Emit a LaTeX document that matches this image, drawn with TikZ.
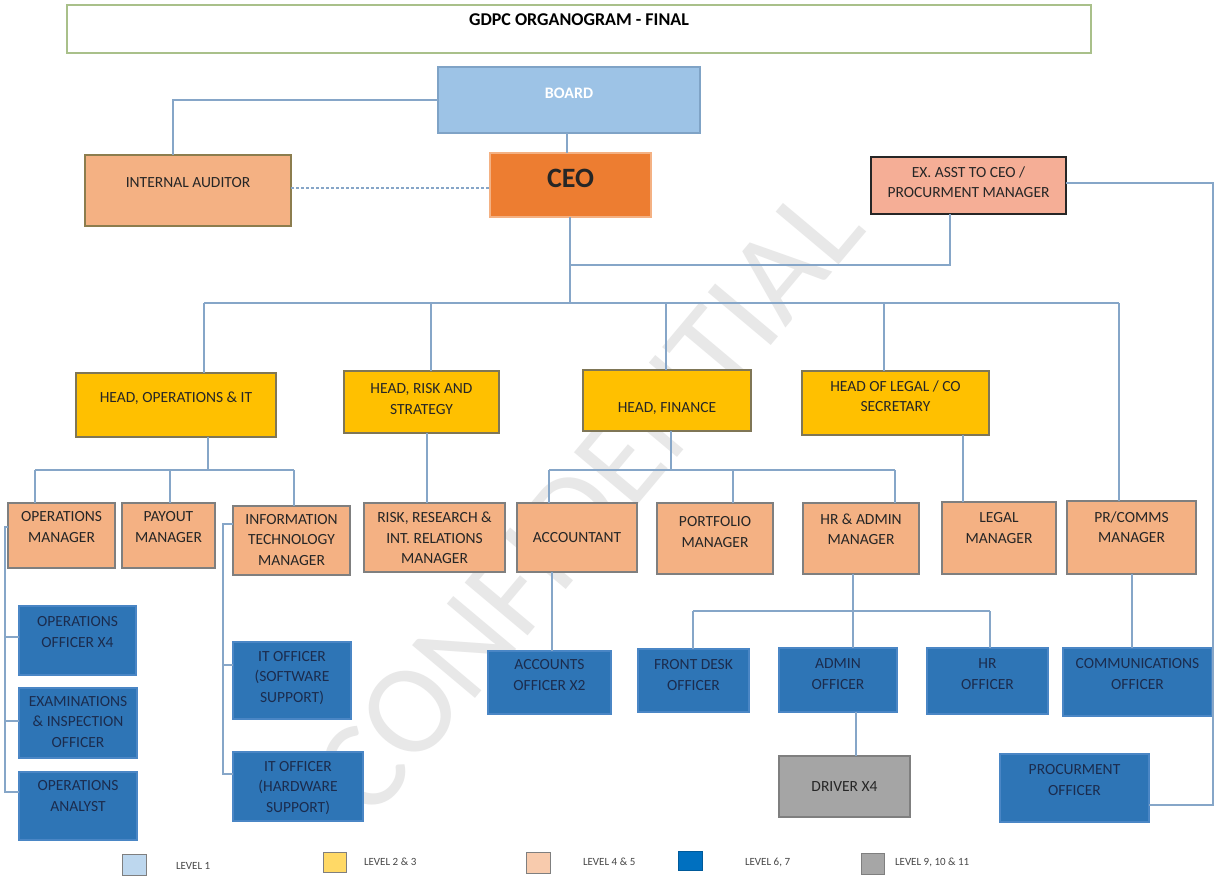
\documentclass[tikz,border=0pt]{standalone}
\usepackage{fontspec}
\setmainfont{Carlito}
\usetikzlibrary{calc}
\definecolor{connc}{HTML}{86A6C8}
\definecolor{boardf}{HTML}{9DC3E6}
\definecolor{boardd}{HTML}{7FA3C6}
\definecolor{ceof}{HTML}{ED7D31}
\definecolor{ceod}{HTML}{F4B183}
\definecolor{orf}{HTML}{F4B183}
\definecolor{ord}{HTML}{7F7F7F}
\definecolor{iad}{HTML}{8C7D4E}
\definecolor{yelf}{HTML}{FFC000}
\definecolor{yeld}{HTML}{7F7656}
\definecolor{exf}{HTML}{F5AE96}
\definecolor{bluf}{HTML}{2E75B6}
\definecolor{blud}{HTML}{4A86C5}
\definecolor{blut}{HTML}{1B2C4E}
\definecolor{gryf}{HTML}{A5A5A5}
\definecolor{titd}{HTML}{A9C08A}
\definecolor{txtd}{HTML}{262626}
\definecolor{lg1}{HTML}{BDD7EE}
\definecolor{lg2}{HTML}{FFD966}
\definecolor{lg3}{HTML}{F8CBAD}
\definecolor{lg4}{HTML}{0070C0}
\definecolor{lg5}{HTML}{A6A6A6}
\newcommand\obox[9]{%
  \node[#2, anchor=north west, minimum width={(#5-#3)*1pt}, minimum height={(#6-#4)*1pt}] (#1) at (#3,#4) {};
  \node[#9] (#1t) at ({(#3+#5)/2}, #7) {#8};}
\begin{document}
\begin{tikzpicture}[x=1pt,y=-1pt,
  every node/.style={inner sep=0pt, outer sep=0pt},
  conn/.style={draw=connc, line width=1.3pt},
  boxbase/.style={rectangle, line width=1.1pt},
  bboard/.style={boxbase, fill=boardf, draw=boardd},
  bceo/.style={boxbase, fill=ceof, draw=ceod},
  bia/.style={boxbase, fill=orf, draw=iad},
  bor/.style={boxbase, fill=orf, draw=ord},
  bhead/.style={boxbase, fill=yelf, draw=yeld},
  bex/.style={boxbase, fill=exf, draw=txtd},
  bblue/.style={boxbase, fill=bluf, draw=blud},
  bgrey/.style={boxbase, fill=gryf, draw=ord},
  tdark/.style={align=center, text=txtd, font=\fontsize{15.5}{20.5}\selectfont},
  tblue/.style={align=center, text=blut, font=\fontsize{15.5}{20.5}\selectfont},
  twhite/.style={align=center, text=white, font=\fontsize{16}{20}\selectfont\bfseries},
  tceo/.style={align=center, text=txtd, font=\fontsize{28}{30}\selectfont\bfseries},
  ttitle/.style={align=center, text=black, font=\fontsize{18}{20}\selectfont\bfseries},
  swatch/.style={rectangle, draw=ord, line width=0.9pt, anchor=north west},
  tleg/.style={anchor=west, text=txtd!85, font=\fontsize{11}{12}\selectfont},
]
\useasboundingbox (0,0) rectangle (1215,876);
\fill[white] (0,0) rectangle (1215,876);
% watermark
\node[rotate=50, text=black!9, font=\fontsize{128}{130}\selectfont] (wm) at (588,500) {CONFIDENTIAL};
% title
\obox{title}{boxbase, fill=white, draw=titd}{67}{5}{1091}{53}{20}{GDPC ORGANOGRAM - FINAL}{ttitle}
% top level
\obox{board}{bboard}{438}{67}{700}{133}{93}{BOARD}{twhite}
\obox{ceo}{bceo}{490}{153}{651}{217}{178}{CEO}{tceo}
\obox{ia}{bia}{85}{155}{291}{226}{183}{INTERNAL AUDITOR}{tdark}
\obox{ex}{bex}{871}{157}{1066}{214}{182}{EX. ASST TO CEO /\\PROCURMENT MANAGER}{tdark}
% heads
\obox{hops}{bhead}{76}{373}{276}{437}{398}{HEAD, OPERATIONS \& IT}{tdark}
\obox{hrisk}{bhead}{344}{371}{499}{433}{399}{HEAD, RISK AND\\STRATEGY}{tdark}
\obox{hfin}{bhead}{583}{370}{751}{431}{408}{HEAD, FINANCE}{tdark}
\obox{hleg}{bhead}{802}{371}{989}{435}{396}{HEAD OF LEGAL / CO\\SECRETARY}{tdark}
% level 4
\obox{opm}{bor}{8}{503}{115}{568}{527}{OPERATIONS\\MANAGER}{tdark}
\obox{pay}{bor}{122}{503}{215}{568}{527}{PAYOUT\\MANAGER}{tdark}
\obox{itm}{bor}{233}{506}{350}{575}{540}{INFORMATION\\TECHNOLOGY\\MANAGER}{tdark}
\obox{rrm}{bor}{364}{503}{505}{572}{538}{RISK, RESEARCH \&\\INT. RELATIONS\\MANAGER}{tdark}
\obox{acc}{bor}{517}{503}{637}{572}{538}{ACCOUNTANT}{tdark}
\obox{port}{bor}{657}{503}{773}{574}{532}{PORTFOLIO\\MANAGER}{tdark}
\obox{hra}{bor}{803}{503}{919}{574}{529}{HR \& ADMIN\\MANAGER}{tdark}
\obox{legm}{bor}{942}{502}{1056}{574}{528}{LEGAL\\MANAGER}{tdark}
\obox{prm}{bor}{1067}{501}{1196}{574}{527}{PR/COMMS\\MANAGER}{tdark}
% level 6
\obox{oo}{bblue}{19}{606}{136}{675}{632}{OPERATIONS\\OFFICER X4}{tblue}
\obox{eio}{bblue}{19}{688}{137}{758}{722}{EXAMINATIONS\\\& INSPECTION\\OFFICER}{tblue}
\obox{oan}{bblue}{19}{772}{137}{840}{796}{OPERATIONS\\ANALYST}{tblue}
\obox{itsw}{bblue}{233}{642}{351}{719}{678}{IT OFFICER\\(SOFTWARE\\SUPPORT)}{tblue}
\obox{ithw}{bblue}{233}{752}{363}{821}{788}{IT OFFICER\\(HARDWARE\\SUPPORT)}{tblue}
\obox{aco}{bblue}{488}{651}{611}{714}{675}{ACCOUNTS\\OFFICER X2}{tblue}
\obox{fdo}{bblue}{638}{649}{749}{712}{675}{FRONT DESK\\OFFICER}{tblue}
\obox{adm}{bblue}{779}{648}{897}{712}{674}{ADMIN\\OFFICER}{tblue}
\obox{hro}{bblue}{927}{648}{1048}{714}{674}{HR\\OFFICER}{tblue}
\obox{coo}{bblue}{1063}{648}{1212}{716}{674}{COMMUNICATIONS\\OFFICER}{tblue}
\obox{drv}{bgrey}{779}{756}{910}{817}{787}{DRIVER X4}{tdark}
\obox{po}{bblue}{1000}{754}{1149}{822}{780}{PROCURMENT\\OFFICER}{tblue}
% legend
\node[swatch, fill=lg1, minimum width=24pt, minimum height=21pt] (s1) at (122,854) {};
\node[tleg] (l1) at (176,866) {LEVEL 1};
\node[swatch, fill=lg2, minimum width=23pt, minimum height=20pt] (s2) at (323,852) {};
\node[tleg] (l2) at (364,862) {LEVEL 2 \& 3};
\node[swatch, fill=lg3, minimum width=24pt, minimum height=21pt] (s3) at (526,852) {};
\node[tleg] (l3) at (583,862) {LEVEL 4 \& 5};
\node[swatch, fill=lg4, draw=lg4!80!black, minimum width=24pt, minimum height=19pt] (s4) at (678,851) {};
\node[tleg] (l4) at (745,862) {LEVEL 6, 7};
\node[swatch, fill=lg5, minimum width=23pt, minimum height=21pt] (s5) at (861,853) {};
\node[tleg] (l5) at (895,862) {LEVEL 9, 10 \& 11};
% coordinates
\coordinate (busA) at (570,303);
\coordinate (exJ) at (570,265);
\coordinate (rX) at (1213,183);
\coordinate (poR) at (1149,805);
% connectors top
\draw[conn] (board.west) -| (ia.north -| 173,0);
\draw[conn] (board.south -| 567,0) -- (ceo.north -| 567,0);
\draw[conn, dashed, dash pattern=on 3pt off 2pt] (ia.east |- 0,188) -- (ceo.west |- 0,188);
\draw[conn] (ceo.south -| 570,0) -- (busA);
\draw[conn] (exJ) -| (ex.south -| 950,0);
\draw[conn] (ex.east |- rX) -- (rX) |- (poR);
% main bus
\draw[conn] (204,303) -- (1119,303);
\draw[conn] (204,303) -- (hops.north -| 204,0);
\draw[conn] (431,303) -- (hrisk.north -| 431,0);
\draw[conn] (666,303) -- (hfin.north -| 666,0);
\draw[conn] (884,303) -- (hleg.north -| 884,0);
\draw[conn] (1119,303) -- (prm.north -| 1119,0);
% ops branch
\draw[conn] (hops.south -| 208,0) -- (208,470);
\draw[conn] (35,470) -- (294,470);
\draw[conn] (35,470) -- (opm.north -| 35,0);
\draw[conn] (170,470) -- (pay.north -| 170,0);
\draw[conn] (294,470) -- (itm.north -| 294,0);
\draw[conn] (hrisk.south -| 427,0) -- (rrm.north -| 427,0);
% finance branch
\draw[conn] (hfin.south -| 671,0) -- (671,470);
\draw[conn] (549,470) -- (895,470);
\draw[conn] (549,470) -- (acc.north -| 549,0);
\draw[conn] (733,470) -- (port.north -| 733,0);
\draw[conn] (895,470) -- (hra.north -| 895,0);
\draw[conn] (hleg.south -| 963,0) -- (legm.north -| 963,0);
% level 6 connectors
\draw[conn] (opm.west |- 0,527) -- (5,527) -- (5,792) -- (oan.west |- 0,792);
\draw[conn] (5,637) -- (oo.west |- 0,637);
\draw[conn] (5,721) -- (eio.west |- 0,721);
\draw[conn] (itm.west |- 0,524) -- (223,524) -- (223,774) -- (ithw.west |- 0,774);
\draw[conn] (223,665) -- (itsw.west |- 0,665);
\draw[conn] (acc.south -| 552,0) -- (aco.north -| 552,0);
\draw[conn] (hra.south -| 853,0) -- (adm.north -| 853,0);
\draw[conn] (693,611) -- (990,611);
\draw[conn] (693,611) -- (fdo.north -| 693,0);
\draw[conn] (990,611) -- (hro.north -| 990,0);
\draw[conn] (prm.south -| 1132,0) -- (coo.north -| 1132,0);
\draw[conn] (adm.south -| 856,0) -- (drv.north -| 856,0);
\end{tikzpicture}
\end{document}
